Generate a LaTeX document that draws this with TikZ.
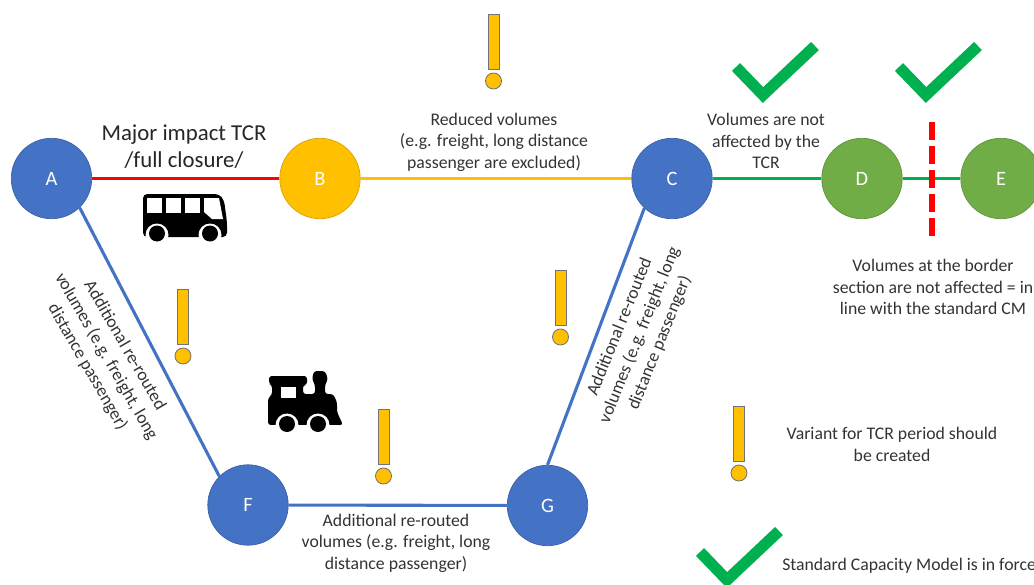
\documentclass[tikz,border=0pt]{standalone}
\usepackage{fontspec}
\setmainfont{Carlito}
\usepackage{tikz}
\usetikzlibrary{positioning}
\definecolor{tcrblue}{HTML}{4472C4}
\definecolor{tcrorange}{HTML}{FFC000}
\definecolor{tcrgreen}{HTML}{70AD47}
\definecolor{tcrcheck}{HTML}{00B050}
\definecolor{tcrtext}{HTML}{333333}
\tikzstyle{station} = [circle, minimum size=2.01cm, inner sep=0pt, text=white, font=\fontsize{14.5}{16}\selectfont, line width=0.5pt]
\tikzstyle{bluestation} = [station, draw=tcrblue!85!black, fill=tcrblue]
\tikzstyle{orangestation} = [station, draw=tcrorange!85!black, fill=tcrorange]
\tikzstyle{greenstation} = [station, draw=tcrgreen!85!black, fill=tcrgreen]
\tikzstyle{track} = [line width=2.2pt]
\tikzstyle{note} = [text=tcrtext, align=center, inner sep=0pt, font=\fontsize{12.6}{15.3}\selectfont]
\tikzstyle{warnmark} = [draw=black!55, fill=tcrorange, line width=0.6pt]
\tikzstyle{checkmark} = [draw=tcrcheck, line width=8pt, miter limit=10]
\begin{document}
\begin{tikzpicture}[x=0.025cm,y=-0.025cm]
\useasboundingbox (0,0) rectangle (1034,585);
\clip (0,0) rectangle (1034,585);

% Stations
\node[bluestation] (a) at (51.5,178.5) {A};
\node[orangestation] (b) at (320,178.5) {B};
\node[bluestation] (c) at (672,178.5) {C};
\node[greenstation] (d) at (862,178.5) {D};
\node[greenstation] (e) at (1001,178.5) {E};
\node[bluestation] (f) at (248,505) {F};
\node[bluestation] (g) at (547.5,505.5) {G};

% Tracks
\draw[track, color=red] (a) -- (b);
\draw[track, color=tcrorange] (b) -- (c);
\draw[track, color=tcrcheck] (c) -- (d);
\draw[track, color=tcrcheck] (d) -- (e);
\draw[track, color=tcrblue] (a.-46) -- (f.135);
\draw[track, color=tcrblue] (f) -- (g);
\draw[track, color=tcrblue] (c.-133) -- (g.north);

% Border section
\coordinate (bordertop) at (932,122);
\coordinate (borderbottom) at (932,238);
\draw[line width=4.3pt, color=red, dash pattern=on 12.8pt off 4.2pt] (bordertop) -- (borderbottom);

% Labels
\node[note, text=black!85, font=\fontsize{16.2}{19.4}\selectfont] (major) at (184,147) {Major impact TCR\\/full closure/};
\node[note] (reduced) at (494,142) {Reduced volumes\\(e.g. freight, long distance\\passenger are excluded)};
\node[note] (notaffected) at (766,141) {Volumes are not\\affected by the\\TCR};
\node[note] (borderinfo) at (933,287) {Volumes at the border\\section are not affected = in\\line with the standard CM};
\node[note] (variant) at (892,444.5) {Variant for TCR period should\\be created};
\node[note, anchor=west] (standard) at (782,566) {Standard Capacity Model is in force};
\node[note] (rerouteleft) at (106,356.5) [rotate=-60] {Additional re-routed\\volumes (e.g. freight, long\\distance passenger)};
\node[note] (rerouteright) at (640,335) [rotate=68] {Additional re-routed\\volumes (e.g. freight, long\\distance passenger)};
\node[note] (reroutebottom) at (396,543) {Additional re-routed\\volumes (e.g. freight, long\\distance passenger)};

% Exclamation marks
\foreach \x/\y in {493.5/14, 183/289, 560.5/270, 383.5/409, 739/406} {
  \draw[warnmark] (\x-5.5,\y) rectangle (\x+5.5,\y+55);
  \draw[warnmark] (\x,\y+67) circle (8);
}

% Check marks
\foreach \x/\y in {763/95, 926/95, 727/580} {
  \draw[checkmark] (\x-27,\y-28) -- (\x,\y) -- (\x+52,\y-49);
}

% Bus
\fill[black, rounded corners=3] (143,237) -- (143,194) -- (219,194) -- (224,200) -- (227,222) -- (227,237) -- cycle;
\fill[white] (147,198) rectangle (162,213);
\fill[white] (166,198) rectangle (181,213);
\fill[white] (185,198) rectangle (200,213);
\fill[white] (204,198) -- (219,198) -- (223,219) -- (212,219) -- (204,212) -- cycle;
\fill[white] (157,235) circle (11.5);
\fill[white] (210,235) circle (11.5);
\fill[black] (157,233.5) circle (8);
\fill[black] (210,233.5) circle (8);

% Train
\fill[black, rounded corners=2] (269,376) -- (307,376) -- (307,385) -- (303,385) -- (303,394) -- (315,394) -- (315,385) -- (312,379) -- (314,371) -- (325,371) -- (328,379) -- (325,385) -- (325,394) -- (333,394) -- (337,402) -- (337,412) -- (343,425) -- (268,425) -- (268,398) -- (272,395) -- (272,385) -- (269,384) -- cycle;
\fill[white] (281,387) rectangle (296,398);
\fill[white] (287,425) circle (11.5);
\fill[white] (318,425) circle (11.5);
\fill[white] (260,425) rectangle (338,433);
\fill[black] (287,424) circle (8);
\fill[black] (318,424) circle (8);
\end{tikzpicture}
\end{document}
